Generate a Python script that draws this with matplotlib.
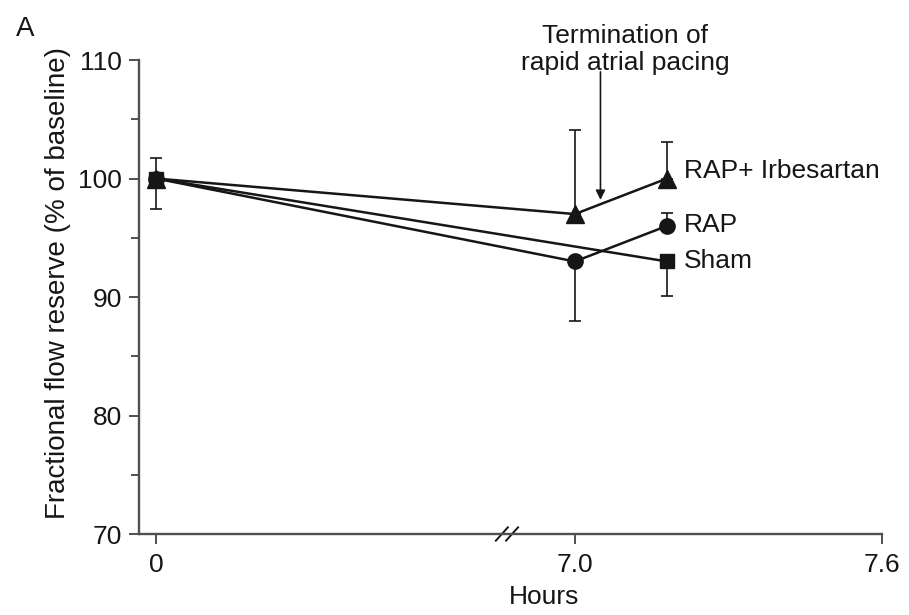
import matplotlib
matplotlib.use("Agg")
import matplotlib.pyplot as plt
import matplotlib.transforms as mtransforms
import numpy as np

plt.rcParams['font.family'] = ['Liberation Sans', 'DejaVu Sans']

# data (% of baseline)
hours_irb = [0, 7.0, 7.18]
ffr_irb = [100, 97, 100]
err_irb_lo = [0, 0, 0]
err_irb_hi = [1.7, 7.1, 3.1]

hours_rap = [0, 7.0, 7.18]
ffr_rap = [100, 93, 96]
err_rap_lo = [2.6, 5.0, 0]
err_rap_hi = [0, 0, 1.1]

hours_sham = [0, 7.18]
ffr_sham = [100, 93]
err_sham_lo = [0, 2.9]
err_sham_hi = [0, 0]

xticks = [0, 7.0, 7.6]
xticklabels = ['0', '7.0', '7.6']
yticks = [70, 80, 90, 100, 110]

# broken time axis: 0..7 compressed, 7..7.6 linear
K = (419 / 512) / 7.0
def fwd(x):
    x = np.asarray(x, dtype=float)
    return np.where(x <= 7.0, x * K, 7.0 * K + (x - 7.0))
def inv(u):
    u = np.asarray(u, dtype=float)
    return np.where(u <= 7.0 * K, u / K, 7.0 + (u - 7.0 * K))

fig = plt.figure(figsize=(9.09, 6.15), dpi=100)
ax = fig.add_axes([0.1529, 0.1317, 0.8174, 0.7707])
ax.set_xscale('function', functions=(fwd, inv))

c = '#161616'
mk = dict(color=c, lw=1.8, mec=c, mfc=c, ecolor=c, elinewidth=1.2,
          capsize=4, capthick=1.2, clip_on=False)
ax.errorbar(hours_irb, ffr_irb, yerr=[err_irb_lo, err_irb_hi], marker='^', ms=12.5, **mk)
ax.errorbar(hours_rap, ffr_rap, yerr=[err_rap_lo, err_rap_hi], marker='o', ms=11, **mk)
ax.errorbar(hours_sham, ffr_sham, yerr=[err_sham_lo, err_sham_hi], marker='s', ms=9.5, **mk)

fs = 19
ax.annotate('RAP+ Irbesartan', xy=(7.18, 100.6), xytext=(12, 0), textcoords='offset points',
            va='center', ha='left', fontsize=fs, color=c)
ax.annotate('RAP', xy=(7.18, 96.1), xytext=(12, 0), textcoords='offset points',
            va='center', ha='left', fontsize=fs, color=c)
ax.annotate('Sham', xy=(7.18, 93.0), xytext=(12, 0), textcoords='offset points',
            va='center', ha='left', fontsize=fs, color=c)

ax.annotate('', xy=(7.05, 98.2), xytext=(7.05, 109.0), annotation_clip=False,
            arrowprops=dict(arrowstyle='-|>', color=c, lw=1.2, mutation_scale=14,
                            shrinkA=0, shrinkB=0))
ax.text(7.098, 108.75, 'Termination of\nrapid atrial pacing', ha='center', va='bottom',
        fontsize=fs, color=c, linespacing=1.15, clip_on=False)

ax.set_xlim(-0.284, 7.6)
ax.set_ylim(70, 110)
ax.set_xticks(xticks)
ax.set_xticklabels(xticklabels)
ax.set_yticks(yticks)
ax.set_yticks([75, 85, 95, 105], minor=True)
ax.xaxis.set_minor_locator(matplotlib.ticker.NullLocator())
ax.tick_params(axis='both', which='major', labelsize=fs, length=7, width=1.4,
               color='#505050', labelcolor=c)
ax.tick_params(axis='x', which='major', pad=7)
ax.tick_params(axis='y', which='major', pad=5)
ax.tick_params(axis='y', which='minor', length=6, width=1.4, color='#505050')

for s in ['top', 'right']:
    ax.spines[s].set_visible(False)
for s in ['left', 'bottom']:
    ax.spines[s].set_linewidth(1.7)
    ax.spines[s].set_color('#505050')

ax.set_xlabel('Hours', fontsize=fs, color=c)
ax.xaxis.set_label_coords(0.545, -0.108)
ax.set_ylabel('Fractional flow reserve (% of baseline)', fontsize=20, color=c)
ax.yaxis.set_label_coords(-0.092, 0.53)

# break marks on the time axis
trans = mtransforms.blended_transform_factory(ax.transData, ax.transAxes)
for xb in [5.78, 5.95]:
    ax.plot([xb - 0.1, xb + 0.1], [-0.014, 0.014], transform=trans, color=c,
            lw=1.4, clip_on=False)

fig.text(0.018, 0.942, 'A', fontsize=20, color=c)

fig.savefig('out.png', dpi=100)
